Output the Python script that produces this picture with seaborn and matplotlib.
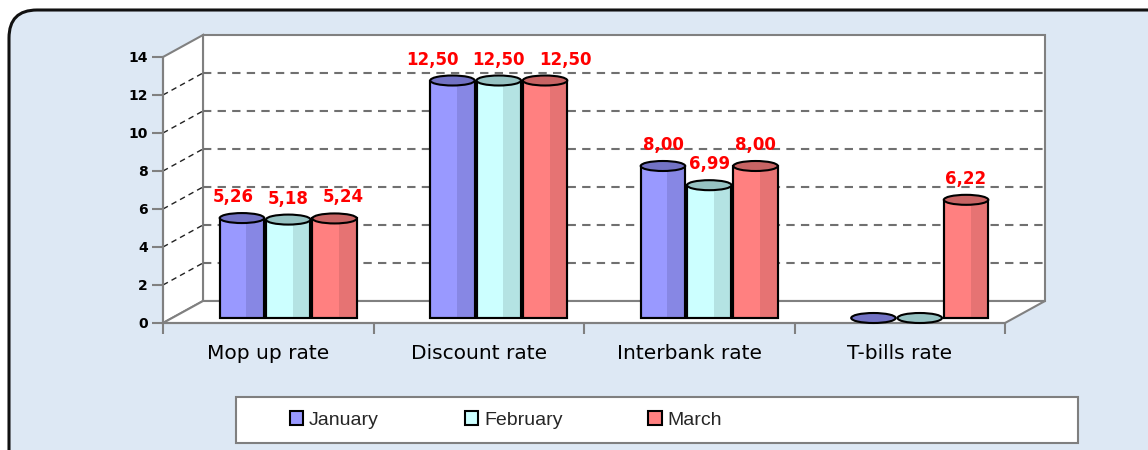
import numpy as np
import pandas as pd
import seaborn as sns
import matplotlib
matplotlib.use("Agg")
import matplotlib.pyplot as plt
from matplotlib.patches import FancyBboxPatch, Rectangle, Polygon, Ellipse, Patch
from matplotlib import transforms as mtrans

# ---------------- data ----------------
categories = ["Mop up rate", "Discount rate", "Interbank rate", "T-bills rate"]
months = ["January", "February", "March"]
january = [5.26, 12.50, 8.00, 0.0]
february = [5.18, 12.50, 6.99, 0.0]
march = [5.24, 12.50, 8.00, 6.22]
y_ticks = [0, 2, 4, 6, 8, 10, 12, 14]

face_colors = ["#9999ff", "#ccffff", "#ff8080"]
cap_colors = ["#7272c4", "#97c3c3", "#c86464"]

df = pd.DataFrame({
    "category": categories * 3,
    "month": [m for m in months for _ in categories],
    "value": january + february + march,
})

sns.set_theme(style="white")
plt.rcParams["font.family"] = ["Liberation Sans", "DejaVu Sans"]

W, H = 1148, 450
fig = plt.figure(figsize=(W / 100, H / 100), dpi=100)
fig.patch.set_facecolor("white")

# background rounded panel
bg = FancyBboxPatch((9 / 100, -30 / 100), 1200 / 100, 470 / 100,
                    boxstyle="round,pad=0,rounding_size=0.28",
                    transform=fig.dpi_scale_trans, facecolor="#dde8f4",
                    edgecolor="#111111", linewidth=2.2, zorder=-10)
fig.add_artist(bg)

# legend frame
fig.add_artist(Rectangle((236 / W, 7 / H), 842 / W, 46 / H, transform=fig.transFigure,
                         facecolor="white", edgecolor="#7f7f7f", linewidth=1.5, zorder=-5))

ax = fig.add_axes([163 / W, (H - 323) / H, 842 / W, 266 / H])
ax.set_facecolor("none")

sns.barplot(data=df, x="category", y="value", hue="month", palette=face_colors,
            width=0.66, gap=0.04, edgecolor="black", linewidth=1.5, saturation=1,
            legend=False, ax=ax, zorder=2)
bars = list(ax.patches)

ax.set_xlim(-0.5, 3.5)
ax.set_ylim(0, 14)

sx = 842 / 4.0
sy = 266 / 14.0
dxb = 40 / sx
dyb = 22 / sy

# walls
ax.add_patch(Rectangle((-0.5 + dxb, dyb), 4, 14, facecolor="white", edgecolor="#808080",
                       linewidth=1.5, zorder=0, clip_on=False))
ax.add_patch(Polygon([(-0.5, 0), (-0.5 + dxb, dyb), (-0.5 + dxb, 14 + dyb), (-0.5, 14)],
                     closed=True, facecolor="white", edgecolor="#808080", linewidth=1.5,
                     zorder=0.2, clip_on=False))
ax.add_patch(Polygon([(-0.5, 0), (3.5, 0), (3.5 + dxb, dyb), (-0.5 + dxb, dyb)],
                     closed=True, facecolor="white", edgecolor="#808080", linewidth=1.5,
                     zorder=0.2, clip_on=False))
for v in y_ticks[1:-1]:
    ax.plot([-0.5 + dxb, 3.5 + dxb], [v + dyb, v + dyb], ls=(0, (4, 3)), color="#707070",
            lw=1.5, zorder=0.5, clip_on=False)
    ax.plot([-0.5, -0.5 + dxb], [v, v + dyb], ls=(0, (4, 3)), color="#222222",
            lw=1.0, zorder=0.5, clip_on=False)

# bars placed at mid depth
bar_tr = mtrans.offset_copy(ax.transData, fig=fig, x=20, y=5, units="dots")
lab_tr = mtrans.offset_copy(ax.transData, fig=fig, x=20, y=17, units="dots")
cap_h = 10 / sy
n = len(categories)
labels = {}
for i, p in enumerate(bars):
    mi, ci = i // n, i % n
    p.set_transform(bar_tr)
    x0, w, h = p.get_x(), p.get_width(), p.get_height()
    ax.add_patch(Rectangle((x0 + w * 0.6, 0), w * 0.4, h, facecolor=cap_colors[mi],
                           alpha=0.45, edgecolor="none", transform=bar_tr, zorder=2.05))
    ax.add_patch(Rectangle((x0, 0), w, h, facecolor="none", edgecolor="black",
                           linewidth=1.5, transform=bar_tr, zorder=2.1))
    ax.add_patch(Ellipse((x0 + w / 2, h), w, cap_h, facecolor=cap_colors[mi],
                         edgecolor="black", linewidth=1.5, transform=bar_tr, zorder=2.2,
                         clip_on=False))
    if h > 0:
        labels[(ci, mi)] = ax.text(x0 + w / 2, h, f"{h:.2f}".replace(".", ","),
                                   transform=lab_tr, ha="center", va="bottom",
                                   color="#ff0000", fontweight="bold", fontsize=12,
                                   family=["DejaVu Sans"], zorder=5, clip_on=False)

# axes styling
for s in ["top", "right"]:
    ax.spines[s].set_visible(False)
for s in ["left", "bottom"]:
    ax.spines[s].set_color("#808080")
    ax.spines[s].set_linewidth(1.5)
    ax.spines[s].set_zorder(1)
ax.set_yticks(y_ticks)
ax.set_yticklabels([str(t) for t in y_ticks], fontweight="bold", family=["DejaVu Sans"])
ax.set_xticks(range(len(categories)))
ax.set_xticklabels(categories, family=["DejaVu Sans"])
ax.set_xticks([-0.5, 0.5, 1.5, 2.5, 3.5], minor=True)
ax.tick_params(axis="y", left=True, length=8, width=1.5, color="#808080",
               labelsize=10, pad=3, labelcolor="black")
ax.tick_params(axis="x", which="major", bottom=True, length=0, pad=15, labelsize=14.5,
               labelcolor="black")
ax.tick_params(axis="x", which="minor", bottom=True, length=8, width=1.5, color="#808080")
ax.set_xlabel("")
ax.set_ylabel("")

# spread value labels apart where they would collide (like Excel does)
fig.canvas.draw()
renderer = fig.canvas.get_renderer()
gap = 14
for ci in range(n):
    mid = labels.get((ci, 1))
    if mid is None:
        continue
    mb = mid.get_window_extent(renderer)
    for mi, sign in ((0, -1), (2, 1)):
        t = labels.get((ci, mi))
        if t is None:
            continue
        tb = t.get_window_extent(renderer)
        if tb.y0 < mb.y1 and mb.y0 < tb.y1:
            if sign < 0:
                ov = tb.x1 + gap - mb.x0
            else:
                ov = mb.x1 + gap - tb.x0
            if ov > 0:
                x, y = t.get_position()
                t.set_position((x + sign * ov / sx, y))

handles = [Patch(facecolor=c, edgecolor="black", linewidth=1.5) for c in face_colors]
fig.legend(handles, months, loc="center left", bbox_to_anchor=(280 / W, 30 / H),
           ncol=3, frameon=False, fontsize=14, handlelength=0.7, handleheight=0.7,
           handletextpad=0.3, columnspacing=4.4, borderpad=0)

fig.savefig("out.png", dpi=100)
